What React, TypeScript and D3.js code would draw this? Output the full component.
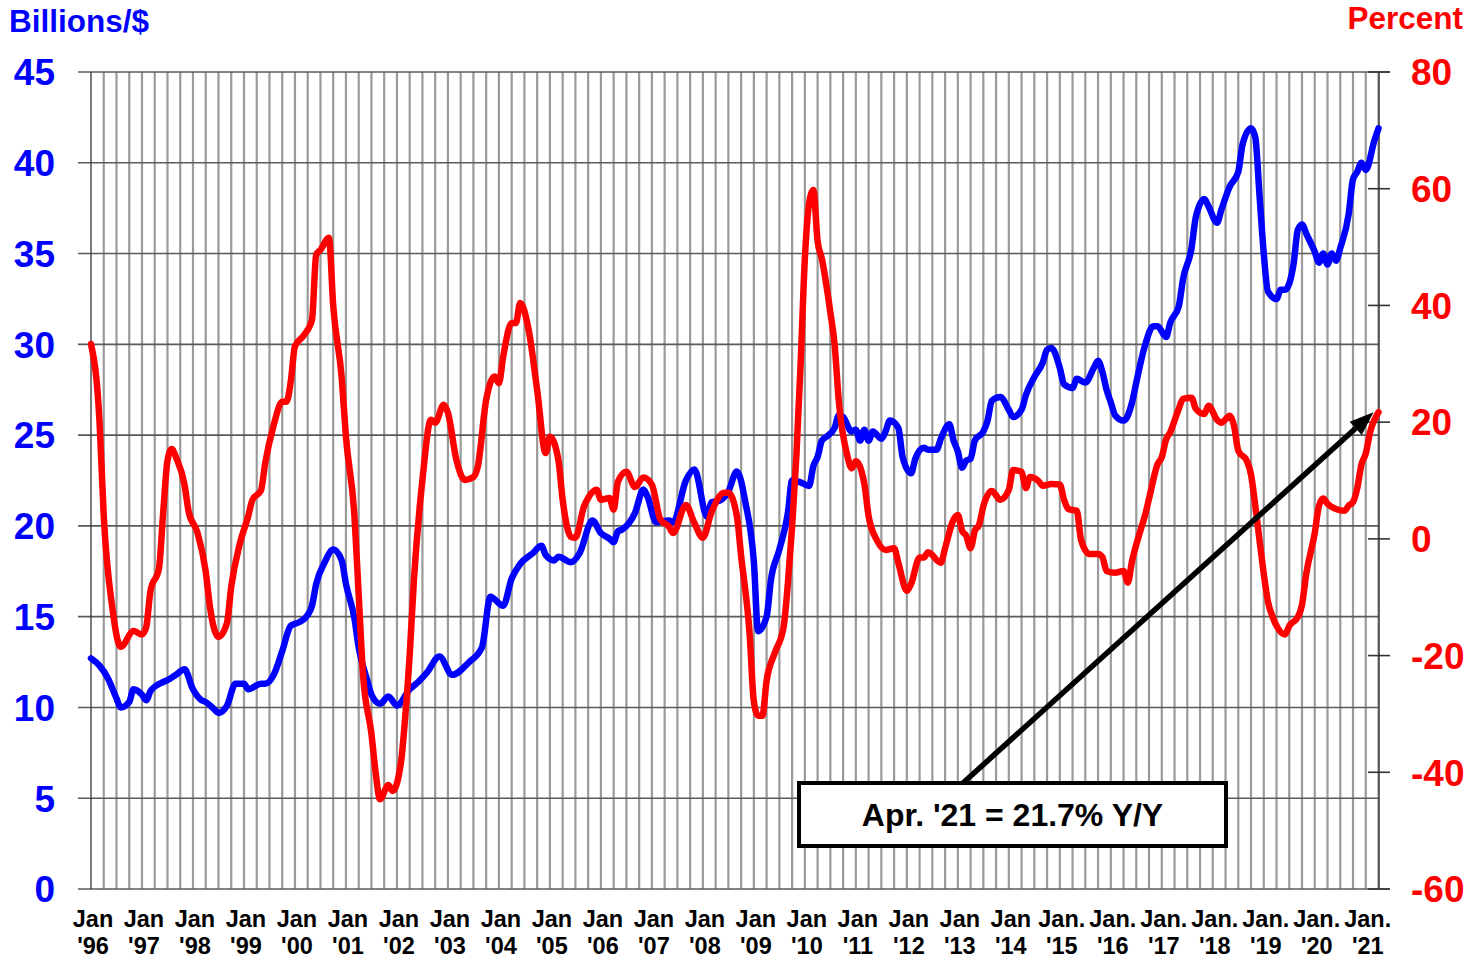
import React from "react";
import * as d3 from "d3";

// month index 0 = Jan '96 ... 303 = Apr '21
// left axis: billions of dollars (blue)
const tradeBillions: [number, number][] = [
  [0, 12.7], [2, 12.3], [4, 11.6], [6, 10.5], [7, 10.0], [9, 10.3], [10, 11.0], [12, 10.7], [13, 10.4], [14, 10.9],
  [17, 11.4], [18, 11.5], [20, 11.8], [22, 12.1], [24, 11.0], [26, 10.4], [27, 10.3], [29, 9.9], [30, 9.7], [32, 10.1],
  [34, 11.3], [36, 11.3], [37, 11.0], [40, 11.3], [41, 11.3], [43, 11.8], [45, 13.1], [47, 14.5], [49, 14.7], [51, 15.1],
  [52, 15.6], [53, 16.8], [55, 18.0], [57, 18.7], [59, 18.1], [60, 16.8], [62, 14.9], [63, 13.3], [65, 11.5], [66, 10.7],
  [68, 10.2], [70, 10.6], [72, 10.1], [75, 11.0], [77, 11.4], [79, 11.9], [82, 12.8], [85, 11.8], [89, 12.5], [92, 13.3],
  [94, 16.1], [97, 15.6], [99, 17.1], [101, 17.9], [104, 18.5], [106, 18.9], [107, 18.4], [109, 18.1], [110, 18.3], [113, 18.0],
  [115, 18.5], [118, 20.3], [120, 19.6], [122, 19.3], [123, 19.1], [124, 19.7], [125, 19.8], [128, 20.7], [130, 22.0], [131, 21.6],
  [133, 20.2], [136, 20.3], [137, 20.2], [140, 22.5], [142, 23.1], [145, 20.5], [146, 21.3], [148, 21.4], [150, 21.9], [152, 23.0],
  [154, 21.3], [156, 18.0], [157, 14.2], [159, 15.0], [160, 17.0], [162, 18.7], [164, 20.7], [165, 22.5], [167, 22.4], [169, 22.2],
  [170, 23.3], [171, 23.8], [172, 24.7], [173, 24.9], [175, 25.4], [176, 26.1], [177, 26.0], [179, 25.2], [180, 25.3], [181, 24.7],
  [182, 25.3], [183, 24.7], [184, 25.2], [186, 24.8], [187, 25.2], [188, 25.8], [190, 25.4], [191, 23.8], [193, 22.9], [194, 23.7],
  [196, 24.3], [197, 24.2], [199, 24.2], [200, 24.8], [202, 25.6], [203, 24.7], [204, 24.1], [205, 23.2], [206, 23.6], [207, 23.7],
  [208, 24.7], [210, 25.2], [211, 25.8], [212, 26.9], [214, 27.1], [216, 26.4], [217, 26.0], [219, 26.4], [220, 27.2], [222, 28.2],
  [224, 29.0], [225, 29.7], [226, 29.8], [228, 28.7], [229, 27.8], [231, 27.6], [232, 28.1], [234, 27.9], [236, 28.7], [237, 29.1],
  [238, 28.5], [239, 27.5], [240, 26.8], [241, 26.1], [243, 25.8], [245, 26.8], [246, 27.9], [248, 29.9], [250, 31.0], [251, 31.0],
  [253, 30.4], [254, 31.2], [256, 32.1], [257, 33.6], [259, 35.3], [260, 37.0], [262, 38.0], [263, 37.6], [265, 36.7], [266, 37.4],
  [268, 38.7], [270, 39.5], [271, 41.0], [273, 41.9], [274, 41.4], [275, 38.2], [276, 35.0], [277, 32.9], [279, 32.5], [280, 33.0],
  [281, 33.0], [283, 34.4], [284, 36.3], [285, 36.6], [286, 36.1], [288, 35.1], [289, 34.5], [290, 35.0], [291, 34.4], [292, 35.0],
  [293, 34.6], [294, 35.3], [296, 37.2], [297, 39.1], [298, 39.5], [299, 40.0], [300, 39.6], [302, 41.2], [303, 41.9],
];

// right axis: percent change Y/Y (red)
const yoyPercent: [number, number][] = [
  [0, 33.4], [2, 20.2], [3, 3.9], [5, -11.7], [7, -18.5], [10, -15.8], [12, -16.4], [13, -15.1], [14, -8.9], [16, -5.0],
  [17, 4.6], [18, 13.4], [19, 15.4], [20, 14.0], [22, 9.3], [23, 4.6], [25, 1.2], [27, -5.6], [28, -11.7], [30, -16.8],
  [32, -14.4], [33, -8.2], [35, -0.9], [37, 3.9], [38, 6.7], [40, 8.3], [41, 13.0], [43, 19.5], [45, 23.5], [46, 23.5],
  [47, 26.9], [48, 33.0], [50, 34.8], [52, 37.5], [53, 48.7], [54, 49.5], [56, 51.6], [57, 40.0], [59, 27.6], [60, 17.5],
  [62, 3.9], [63, -9.6], [64, -23.1], [66, -33.4], [67, -40.1], [68, -44.6], [70, -42.2], [71, -43.2], [73, -38.0], [74, -30.0],
  [75, -19.9], [76, -7.0], [78, 10.1], [80, 20.4], [81, 19.9], [83, 23.0], [84, 21.6], [86, 13.5], [88, 10.1], [90, 10.6],
  [91, 12.3], [93, 23.8], [95, 27.8], [96, 26.7], [97, 31.2], [99, 37.0], [100, 37.0], [101, 40.4], [103, 35.8], [105, 25.5],
  [107, 14.7], [108, 17.5], [110, 13.5], [111, 6.7], [113, 0.3], [114, 0.2], [116, 5.5], [117, 7.0], [119, 8.4], [120, 6.7],
  [122, 7.0], [123, 5.0], [124, 9.8], [126, 11.5], [128, 8.9], [130, 10.5], [132, 9.3], [134, 3.3], [136, 2.1], [137, 1.0],
  [140, 5.8], [142, 2.7], [144, 0.2], [146, 4.5], [149, 7.9], [150, 7.9], [152, 3.9], [153, -2.9], [155, -16.3], [156, -27.9],
  [157, -30.3], [158, -30.3], [159, -24.3], [161, -19.4], [163, -15.1], [164, -7.7], [165, 2.1], [166, 14.2], [167, 30.0], [168, 48.0],
  [169, 57.5], [170, 59.8], [171, 51.0], [172, 48.0], [174, 38.8], [175, 33.3], [176, 23.5], [178, 14.2], [179, 12.1], [180, 13.3],
  [182, 9.4], [183, 3.9], [185, -0.3], [187, -1.9], [189, -1.6], [190, -4.1], [192, -8.9], [193, -7.7], [195, -3.2], [196, -3.2],
  [197, -2.3], [200, -4.1], [201, -1.6], [203, 3.3], [204, 4.1], [205, 1.4], [206, 0.5], [207, -1.6], [208, 1.4], [209, 2.4],
  [210, 5.6], [212, 8.2], [214, 6.7], [216, 8.4], [217, 11.8], [219, 11.5], [220, 8.7], [221, 10.6], [223, 9.9], [224, 9.1],
  [226, 9.4], [228, 9.3], [229, 6.7], [230, 5.1], [232, 4.8], [233, -0.2], [235, -2.6], [237, -2.6], [238, -3.1], [239, -5.5],
  [241, -5.8], [243, -5.5], [244, -7.5], [245, -3.8], [247, 1.5], [248, 3.9], [249, 6.9], [251, 12.8], [252, 14.0], [253, 17.0],
  [254, 18.3], [256, 22.3], [257, 24.0], [259, 24.2], [260, 22.3], [262, 21.4], [263, 22.8], [265, 20.4], [266, 19.9], [268, 21.1],
  [269, 19.4], [270, 15.1], [272, 13.4], [273, 11.0], [274, 5.7], [275, -0.2], [276, -6.0], [277, -10.8], [278, -13.2], [279, -14.9],
  [281, -16.4], [282, -14.9], [284, -13.4], [285, -11.3], [286, -6.0], [288, 1.0], [289, 5.7], [290, 6.9], [291, 6.0], [293, 5.1],
  [295, 4.8], [296, 5.7], [297, 6.3], [298, 8.7], [299, 12.8], [300, 14.6], [301, 18.2], [303, 21.7],
];

const leftTicks = [0, 5, 10, 15, 20, 25, 30, 35, 40, 45];
const rightTicks = [-60, -40, -20, 0, 20, 40, 60, 80];
const monthLabels = [
  "Jan", "Jan", "Jan", "Jan", "Jan", "Jan", "Jan", "Jan", "Jan", "Jan", "Jan", "Jan", "Jan",
  "Jan", "Jan", "Jan", "Jan", "Jan", "Jan", "Jan.", "Jan.", "Jan.", "Jan.", "Jan.", "Jan.", "Jan.",
];
const yearLabels = [
  "'96", "'97", "'98", "'99", "'00", "'01", "'02", "'03", "'04", "'05", "'06", "'07", "'08",
  "'09", "'10", "'11", "'12", "'13", "'14", "'15", "'16", "'17", "'18", "'19", "'20", "'21",
];
const lastMonth = 303;
const note = "Apr. '21 = 21.7% Y/Y";

const W = 1484;
const H = 958;
const FONT = "'Liberation Sans', Arial, Helvetica, sans-serif";

export default function App() {
  const plotLeft = 91;
  const plotRight = 1379;
  const plotTop = 72;
  const plotBottom = 889;

  const x = d3.scaleLinear().domain([0, lastMonth]).range([plotLeft, plotRight - 0.5]);
  const yLeft = d3.scaleLinear().domain([0, 45]).range([plotBottom, plotTop]);
  const yRight = d3.scaleLinear().domain([-60, 80]).range([plotBottom, plotTop]);

  const blueLine = d3
    .line<[number, number]>()
    .x((d) => x(d[0]))
    .y((d) => yLeft(d[1]))
    .curve(d3.curveMonotoneX);
  const redLine = d3
    .line<[number, number]>()
    .x((d) => x(d[0]))
    .y((d) => yRight(d[1]))
    .curve(d3.curveMonotoneX);

  // quarterly grid
  const quarters = d3.range(3, lastMonth + 1, 3);

  // annotation arrow: from box top to the last red point
  const last = yoyPercent[yoyPercent.length - 1];
  const tipX = x(last[0]) - 5;
  const tipY = yRight(last[1]);
  const box = { x: 799, y: 783, w: 427, h: 63 };
  const startX = 963;
  const startY = box.y;
  const ang = Math.atan2(tipY - startY, tipX - startX);
  const headLen = 24;
  const headW = 9;
  const bx = tipX - headLen * Math.cos(ang);
  const by = tipY - headLen * Math.sin(ang);
  const head = [
    [tipX, tipY],
    [bx + headW * Math.sin(ang), by - headW * Math.cos(ang)],
    [bx - headW * Math.sin(ang), by + headW * Math.cos(ang)],
  ]
    .map((p) => p.join(","))
    .join(" ");

  return (
    <div style={{ position: "absolute", left: 0, top: 0 }}>
      <svg width={W} height={H} style={{ display: "block", background: "#fff" }} fontFamily={FONT}>
        {/* vertical quarterly gridlines */}
        {quarters.map((m) => (
          <line key={"v" + m} x1={x(m)} x2={x(m)} y1={plotTop} y2={plotBottom} stroke="#9a9a9a" strokeWidth={2.2} />
        ))}
        {/* horizontal gridlines on left ticks */}
        {leftTicks.map((t) => (
          <line
            key={"h" + t}
            x1={78}
            x2={t === 0 || t === 45 ? 1390 : plotRight}
            y1={yLeft(t)}
            y2={yLeft(t)}
            stroke="#5a5a5a"
            strokeWidth={1.6}
          />
        ))}
        {/* axis lines */}
        <line x1={plotLeft} x2={plotLeft} y1={plotTop} y2={plotBottom} stroke="#333" strokeWidth={1.3} />
        <line x1={plotRight} x2={plotRight} y1={plotTop} y2={plotBottom} stroke="#333" strokeWidth={1.3} />
        {rightTicks.map((t) => (
          <line key={"rt" + t} x1={1368} x2={1390} y1={yRight(t)} y2={yRight(t)} stroke="#333" strokeWidth={1.6} />
        ))}

        {/* series */}
        <path d={blueLine(tradeBillions) || ""} fill="none" stroke="#0000ff" strokeWidth={6.5} strokeLinejoin="round" strokeLinecap="round" />
        <path d={redLine(yoyPercent) || ""} fill="none" stroke="#ff0000" strokeWidth={6.5} strokeLinejoin="round" strokeLinecap="round" />

        {/* left axis labels */}
        {leftTicks.map((t) => (
          <text key={"lt" + t} x={55} y={yLeft(t)} dy="0.36em" textAnchor="end" fill="#0000ff" fontSize={37} fontWeight="bold">
            {t}
          </text>
        ))}
        {/* right axis labels */}
        {rightTicks.map((t) => (
          <text key={"rl" + t} x={1411} y={yRight(t)} dy="0.36em" textAnchor="start" fill="#ff0000" fontSize={37} fontWeight="bold">
            {t}
          </text>
        ))}

        {/* x axis labels */}
        {yearLabels.map((yl, i) => (
          <text key={"x" + i} x={x(i * 12) + 2} textAnchor="middle" fontSize={23.5} fontWeight="bold" fill="#000">
            <tspan x={x(i * 12) + 2} y={927}>{monthLabels[i]}</tspan>
            <tspan x={x(i * 12) + 2} y={954}>{yl}</tspan>
          </text>
        ))}

        {/* titles */}
        <text x={9} y={32} fill="#0000ff" fontSize={31.5} fontWeight="bold">Billions/$</text>
        <text x={1463} y={29} textAnchor="end" fill="#ff0000" fontSize={31.5} fontWeight="bold">Percent</text>

        {/* annotation */}
        <line x1={startX} y1={startY} x2={bx} y2={by} stroke="#000" strokeWidth={5.5} />
        <polygon points={head} fill="#000" />
        <rect x={box.x} y={box.y} width={box.w} height={box.h} fill="#fff" stroke="#000" strokeWidth={4} />
        <text x={box.x + box.w / 2} y={826} textAnchor="middle" fontSize={32} fontWeight="bold" fill="#000">
          {note}
        </text>
      </svg>
    </div>
  );
}
